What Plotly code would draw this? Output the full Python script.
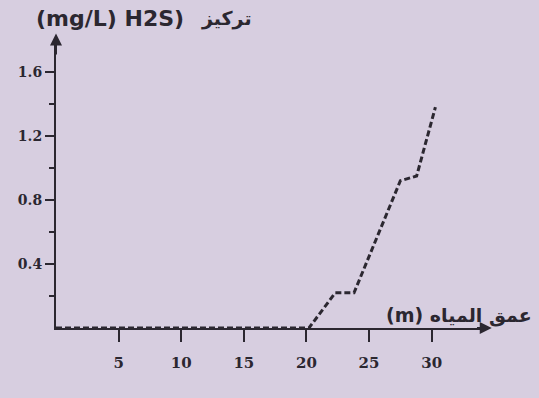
import plotly.graph_objects as go

# Data
depth_m = [0, 5, 10, 15, 20.2, 22.3, 23.8, 27.5, 28.8, 30.3]
h2s_mg_per_l = [0, 0, 0, 0, 0, 0.22, 0.22, 0.92, 0.95, 1.38]
x_tick_vals = [5, 10, 15, 20, 25, 30]
x_tick_text = ["5", "10", "15", "20", "25", "30"]
y_tick_vals = [0.4, 0.8, 1.2, 1.6]
y_tick_text = ["0.4", "0.8", "1.2", "1.6"]

bg = "#d7cee0"
ink = "#2b2730"

W, H = 539, 398
pl, pr, pt, pb = 56, 51, 40, 70
pw, ph = W - pl - pr, H - pt - pb


def to_paper(px, py):
    return (px - pl) / pw, 1 - (py - pt) / ph


fig = go.Figure()
fig.add_trace(go.Scatter(
    x=depth_m, y=h2s_mg_per_l, mode="lines",
    line=dict(color=ink, width=3, dash="6px,3px"),
    hoverinfo="skip", showlegend=False,
))

t1x, t1y = to_paper(34, 18)
t2x, t2y = to_paper(199, 18)
t3x, t3y = to_paper(384, 315)

fig.update_layout(
    width=W, height=H,
    margin=dict(l=pl, r=pr, t=pt, b=pb),
    paper_bgcolor=bg, plot_bgcolor=bg,
    font=dict(family="DejaVu Serif", color=ink, size=13),
    xaxis=dict(
        range=[0, 34.5], showgrid=False, zeroline=False,
        showline=True, linecolor=ink, linewidth=2,
        tickvals=x_tick_vals, ticktext=x_tick_text,
        ticks="outside", ticklen=12, tickwidth=2, tickcolor=ink,
        ticklabelstandoff=8,
        tickfont=dict(family="DejaVu Serif", size=15, color=ink, weight="bold"),
    ),
    yaxis=dict(
        range=[0, 1.8], showgrid=False, zeroline=False,
        showline=True, linecolor=ink, linewidth=2,
        tickvals=y_tick_vals, ticktext=y_tick_text,
        ticks="outside", ticklen=9, tickwidth=2, tickcolor=ink,
        tickfont=dict(family="DejaVu Serif", size=14, color=ink, weight="bold"),
        minor=dict(tickvals=[0.2, 0.6, 1.0, 1.4], ticks="outside",
                   ticklen=5, tickwidth=1.5, tickcolor=ink),
    ),
    annotations=[
        dict(x=34.8, y=0, xref="x", yref="y", ax=33.5, ay=0, axref="x", ayref="y",
             showarrow=True, arrowhead=2, arrowsize=1.2, arrowwidth=2,
             arrowcolor=ink, text=""),
        dict(x=0, y=1.84, xref="x", yref="y", ax=0, ay=1.7, axref="x", ayref="y",
             showarrow=True, arrowhead=2, arrowsize=1.2, arrowwidth=2,
             arrowcolor=ink, text=""),
        dict(x=t1x, y=t1y, xref="paper", yref="paper", text="(mg/L) H2S)",
             showarrow=False, xanchor="left", yanchor="middle",
             font=dict(family="DejaVu Sans", size=22, color=ink, weight="bold")),
        dict(x=t2x, y=t2y, xref="paper", yref="paper", text="تركيز",
             showarrow=False, xanchor="left", yanchor="middle",
             font=dict(family="DejaVu Sans", size=19, color=ink, weight="bold")),
        dict(x=t3x, y=t3y, xref="paper", yref="paper", text="(m) عمق المياه",
             showarrow=False, xanchor="left", yanchor="middle",
             font=dict(family="DejaVu Sans", size=19, color=ink, weight="bold")),
    ],
)

fig.write_html(
    "out.html",
    config={"displayModeBar": False},
    post_script="document.body.style.margin='0';document.body.style.background='" + bg + "';",
)
